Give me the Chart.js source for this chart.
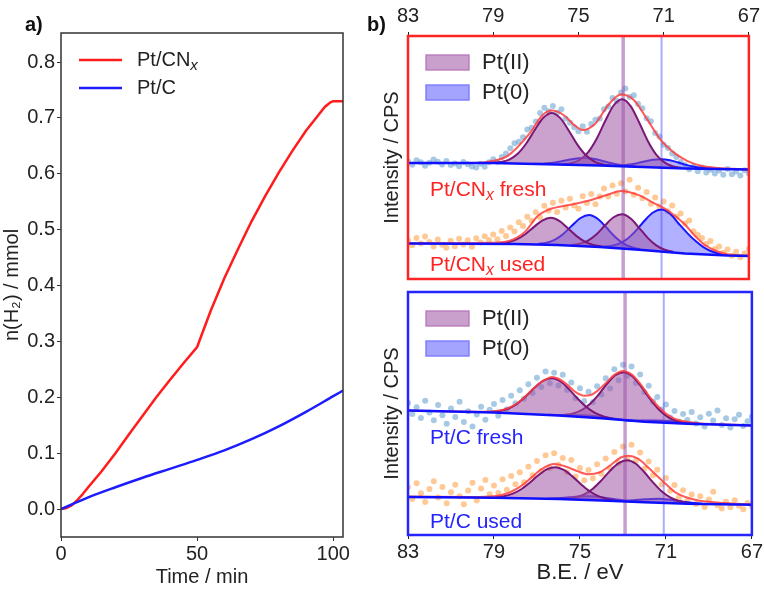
<!DOCTYPE html>
<html>
<head>
<meta charset="utf-8">
<title>H2 evolution and Pt 4f XPS</title>
<script src="https://cdn.jsdelivr.net/npm/chart.js@4.4.1/dist/chart.umd.min.js"></script>
<style>
  body { margin: 0; background: #fff; }
  #wrap { position: relative; width: 764px; height: 596px; font-family: "Liberation Sans", Arial, sans-serif; }
  canvas { position: absolute; }
  .tag { position: absolute; font-size: 20px; font-weight: bold; line-height: 20px; color: #111; }
</style>
</head>
<body>
<div id="wrap">
  <canvas id="kinetics" style="left:0;top:0;width:380px;height:596px" width="380" height="596"></canvas>
  <canvas id="xpsCNx" style="left:380px;top:0;width:384px;height:285px" width="384" height="285"></canvas>
  <canvas id="xpsC" style="left:380px;top:285px;width:384px;height:311px" width="384" height="311"></canvas>
  <div class="tag" style="left:25px;top:14px">a)</div>
  <div class="tag" style="left:367px;top:14px">b)</div>
</div>
<script>
// ---- a) H2 evolution ----
var cnxTime = [0, 2, 4, 6, 8, 10, 15, 20, 25, 30, 35, 40, 45, 50, 55, 60, 65, 70, 75, 80, 85, 90, 95, 97, 99, 100, 103.6];
var cnxH2 = [0, 0.002, 0.007, 0.016, 0.027, 0.039, 0.068, 0.1, 0.134, 0.167, 0.2, 0.231, 0.261, 0.29, 0.355, 0.413, 0.465, 0.515, 0.56, 0.602, 0.641, 0.677, 0.708, 0.72, 0.728, 0.73, 0.73];
var cTime = [0, 10, 20, 30, 40, 50, 60, 70, 80, 90, 100, 103.6];
var cH2 = [0, 0.021, 0.039, 0.056, 0.072, 0.088, 0.105, 0.125, 0.148, 0.174, 0.202, 0.212];
var timeTicks = [0, 50, 100];
var amountTicks = [0, 0.1, 0.2, 0.3, 0.4, 0.5, 0.6, 0.7, 0.8];

// ---- b) XPS Pt 4f ----
var energyTicks = [83, 79, 75, 71, 67];
var refEnergies = [72.9, 71.1]; // Pt(II), Pt(0)
var scanEnergies = [83.0,82.8,82.6,82.4,82.2,82.0,81.8,81.6,81.4,81.2,81.0,80.8,80.6,80.4,80.2,80.0,79.8,79.6,79.4,79.2,
  79.0,78.8,78.6,78.4,78.2,78.0,77.8,77.6,77.4,77.2,77.0,76.8,76.6,76.4,76.2,76.0,75.8,75.6,75.4,75.2,
  75.0,74.8,74.6,74.4,74.2,74.0,73.8,73.6,73.4,73.2,73.0,72.8,72.6,72.4,72.2,72.0,71.8,71.6,71.4,71.2,
  71.0,70.8,70.6,70.4,70.2,70.0,69.8,69.6,69.4,69.2,69.0,68.8,68.6,68.4,68.2,68.0,67.8,67.6,67.4,67.2,67.0];

// Pt/CNx fresh
var cnxFreshCounts = [48.5,47.0,48.9,48.0,46.6,47.8,49.2,48.3,47.1,48.6, 46.9,47.5,46.4,48.1,47.2,46.3,45.9,47.4,46.2,48.0,
  49.3,48.1,50.2,51.6,53.8,55.9,56.5,58.3,61.5,62.2, 64.8,68.3,70.5,69.0,71.2,68.4,69.9,66.1,64.3,62.5,
  60.8,62.9,60.6,63.8,65.5,66.1,69.9,71.0,74.5,73.2, 76.8,78.4,74.9,75.6,72.0,70.3,66.2,64.9,60.1,58.6,
  55.2,53.9,51.6,50.2,48.1,46.9,45.2,46.3,44.3,45.9, 43.8,45.0,43.4,44.6,42.9,45.3,43.1,44.2,42.6,44.8, 43.5];
var cnxFreshBase = [[83,47.7],[79,47.7],[76,47.1],[74,46.7],[72,46.1],[70,45.5],[67,45.1]];
var cnxFreshFit = [[83,47.7],[80,47.7],[79.2,48.3],[78.3,50.8],[77.3,59.8],[76.7,67.3],[76.25,69.3],[75.7,67.5],[75.15,63.0],[74.8,61.3],[74.2,64.0],[73.6,71.6],[73.0,75.9],[72.4,73.7],[71.75,65.4],[71.1,56.8],[70.5,51.9],[69.9,48.6],[69.3,46.7],[68.5,45.7],[67,45.1]];
var cnxFreshPt2a = [[79.05,47.83],[78.65,48.15],[78.25,49.15],[77.85,51.54],[77.45,55.76],[77.05,61.34],[76.65,66.35],[76.25,68.35],[75.85,66.19],[75.45,61.02],[75.05,55.28],[74.65,50.9],[74.25,48.35],[73.85,47.18],[73.45,46.67]];
var cnxFreshPt2b = [[75.75,47.22],[75.35,47.64],[74.95,48.98],[74.55,52.11],[74.15,57.63],[73.75,64.9],[73.35,71.4],[72.95,73.99],[72.55,71.17],[72.15,64.42],[71.75,56.93],[71.35,51.21],[70.95,47.88],[70.55,46.31],[70.15,45.72]];
var cnxFreshPt0a = [[77.1,47.39],[76.7,47.47],[76.3,47.74],[75.9,48.27],[75.5,48.99],[75.1,49.63],[74.7,49.84],[74.3,49.47],[73.9,48.66],[73.5,47.74],[73.1,47.01],[72.7,46.54],[72.3,46.26]];
var cnxFreshPt0b = [[73.5,46.64],[73.1,46.69],[72.7,46.98],[72.3,47.57],[71.9,48.39],[71.5,49.11],[71.1,49.33],[70.7,48.87],[70.3,47.91],[69.9,46.87],[69.5,46.1],[69.1,45.64],[68.7,45.42]];

// Pt/CNx used
var cnxUsedCounts = [15.8,13.9,16.9,14.6,17.5,15.2,13.4,16.3,14.1,12.9, 15.7,13.5,16.6,14.2,15.9,13.3,16.8,15.0,17.6,16.1,
  18.3,16.4,19.8,17.7,21.2,19.5,23.4,21.8,25.6,24.0, 27.5,25.3,30.1,28.2,31.4,27.6,32.2,29.4,33.0,30.2,
  28.9,34.1,31.3,35.0,30.8,33.9,37.2,34.0,38.5,35.1, 39.4,36.0,40.8,34.7,37.6,33.2,35.8,31.0,33.5,29.8,
  31.9,27.9,30.2,25.6,27.0,22.8,24.1,19.6,18.2,16.9, 14.4,15.6,12.3,13.4,10.8,12.1,9.6,11.2,8.9,10.5, 12.4];
var cnxUsedBase = [[83,14.6],[78,14.4],[76,14.0],[74,13.2],[72,11.9],[70,10.5],[68,9.7],[67,9.5]];
var cnxUsedFit = [[83,14.7],[80,14.8],[78.5,15.2],[77.9,17.0],[77.5,19.5],[76.9,26.0],[76.25,29.0],[75.3,30.7],[74.4,32.5],[73.6,34.8],[73.0,36.2],[72.2,34.6],[71.45,31.2],[70.8,28.2],[70.05,22.8],[69.5,17.5],[69.1,14.2],[68.5,11.4],[68.0,10.2],[67.5,9.8],[67,9.6]];
var cnxUsedPt2a = [[78.7,14.64],[78.3,15.11],[77.9,16.27],[77.5,18.4],[77.1,21.35],[76.7,24.07],[76.3,25.16],[75.9,23.89],[75.5,20.93],[75.1,17.74],[74.7,15.37],[74.3,14.02],[73.9,13.35]];
var cnxUsedPt2b = [[75.35,14.01],[74.95,14.47],[74.55,15.82],[74.15,18.45],[73.75,22.09],[73.35,25.4],[72.95,26.62],[72.55,24.88],[72.15,21.05],[71.75,16.93],[71.35,13.85],[70.95,12.06],[70.55,11.16]];
var cnxUsedPt0a = [[76.9,14.43],[76.5,14.91],[76.1,16.21],[75.7,18.64],[75.3,22.0],[74.9,25.11],[74.5,26.3],[74.1,24.78],[73.7,21.29],[73.3,17.51],[72.9,14.68],[72.5,13.04],[72.1,12.22]];
var cnxUsedPt0b = [[73.9,13.36],[73.5,13.59],[73.1,14.51],[72.7,16.55],[72.3,19.89],[71.9,23.96],[71.5,27.38],[71.1,28.57],[70.7,26.82],[70.3,22.84],[69.9,19.0],[69.5,15.6],[69.1,12.9],[68.7,11.2],[68.3,10.2]];

// Pt/C fresh
var cFreshCounts = [54.3,49.8,52.6,48.1,55.2,50.4,47.2,53.5,49.3,45.8, 52.1,48.6,54.8,46.5,50.9,44.7,49.6,52.8,47.4,51.5,
  53.9,49.1,55.6,51.8,57.3,54.2,59.6,56.1,62.0,58.4, 64.7,60.9,67.3,62.4,66.8,61.5,65.9,59.7,62.8,56.3,
  60.4,55.1,58.9,54.6,61.2,57.8,64.5,60.3,68.2,63.7, 70.1,65.4,69.3,62.6,66.0,58.7,61.4,54.9,56.8,51.6,
  53.7,48.4,51.0,46.7,49.8,47.3,50.6,45.9,48.5,44.6, 49.9,47.1,51.2,45.3,48.0,44.2,47.6,49.5,44.9,46.8, 48.7];
var cFreshBase = [[83,51.2],[79,50.4],[76,49.2],[74,48.0],[72,46.6],[70,45.8],[67,45.1]];
var cFreshFit = [[83,51.2],[79.5,50.7],[79,50.9],[78.5,51.7],[78,53.7],[77.5,57.4],[77,61.6],[76.6,64.0],[76.3,65.0],[76,64.3],[75.6,61.9],[75.2,58.8],[74.8,57.3],[74.5,57.6],[74.2,59.2],[73.8,62.5],[73.4,65.9],[73.0,67.5],[72.6,66.1],[72.2,62.3],[71.8,57.4],[71.4,53.3],[71.0,50.0],[70.6,47.9],[70.2,46.9],[69.5,46.0],[68.5,45.6],[67,45.1]];
var cFreshPt2a = [[79.1,50.72],[78.7,51.13],[78.3,52.17],[77.9,54.19],[77.5,57.2],[77.1,60.68],[76.7,63.51],[76.3,64.52],[75.9,63.17],[75.5,59.94],[75.1,56.06],[74.7,52.65],[74.3,50.23],[73.9,48.78],[73.5,47.95]];
var cFreshPt2b = [[75.75,49.45],[75.35,49.92],[74.95,51.24],[74.55,53.83],[74.15,57.59],[73.75,62.14],[73.35,65.77],[72.95,67.01],[72.55,65.21],[72.15,61.02],[71.75,56.14],[71.35,51.84],[70.95,48.85],[70.55,47.13],[70.15,46.26]];
var cFreshPt0a = [[76.5,49.46],[76.1,49.39],[75.7,49.34],[75.3,49.31],[74.9,49.26],[74.5,49.1],[74.1,48.75],[73.7,48.28],[73.3,47.79],[72.9,47.34],[72.5,46.97]];
var cFreshPt0b = [[73.1,47.43],[72.7,47.24],[72.3,47.13],[71.9,47.09],[71.5,47.12],[71.1,47.04],[70.7,46.8],[70.3,46.45],[69.9,46.1],[69.5,45.83],[69.1,45.65]];

// Pt/C used
var cUsedCounts = [19.6,14.8,21.3,17.2,13.6,18.9,22.1,15.4,19.8,13.1, 17.6,20.7,15.9,12.7,18.3,21.5,14.2,19.1,22.6,16.8,
  20.4,17.3,22.9,18.6,24.3,20.9,25.8,21.7,28.1,24.6, 30.5,26.2,32.8,27.5,33.6,28.9,31.7,25.8,30.9,24.1,
  27.6,22.5,26.8,23.4,29.1,25.2,31.5,27.4,34.2,29.6, 36.4,31.2,37.1,30.5,33.9,27.3,30.2,24.6,26.9,20.8,
  23.5,18.2,20.6,15.3,18.4,14.1,16.7,12.8,15.9,11.5, 14.6,17.8,12.2,10.9,13.7,11.4,14.3,12.0,10.6,13.2, 11.8];
var cUsedBase = [[83,15.6],[79,15.3],[76,14.8],[74,14.2],[72,13.5],[70,12.9],[67,12.4]];
var cUsedFit = [[83,15.8],[80,15.6],[79,15.9],[78.3,17.4],[77.8,19.8],[77.3,23.3],[76.8,27.0],[76.2,29.2],[75.6,28.0],[75.1,26.2],[74.6,25.0],[74.1,25.7],[73.6,28.6],[73.1,31.9],[72.75,32.6],[72.3,31.4],[71.8,27.6],[71.2,22.6],[70.5,17.2],[69.6,14.4],[68.5,13.3],[67,12.6]];
var cUsedPt2a = [[78.95,15.55],[78.55,15.95],[78.15,16.93],[77.75,18.73],[77.35,21.41],[76.95,24.47],[76.55,26.98],[76.15,27.93],[75.75,26.82],[75.35,24.12],[74.95,20.87],[74.55,18.01],[74.15,16.02],[73.75,14.84],[73.35,14.23]];
var cUsedPt2b = [[75.6,15.02],[75.2,15.51],[74.8,16.74],[74.4,19.05],[74.0,22.48],[73.6,26.4],[73.2,29.61],[72.8,30.78],[72.4,29.33],[72.0,25.84],[71.6,21.66],[71.2,17.99],[70.8,15.44],[70.4,13.97],[70.0,13.24]];
var cUsedPt0a = [[76.5,15.0],[76.1,15.13],[75.7,15.34],[75.3,15.65],[74.9,15.91],[74.5,15.95],[74.1,15.67],[73.7,15.16],[73.3,14.59],[72.9,14.13],[72.5,13.8]];
var cUsedPt0b = [[73.3,14.07],[72.9,14.13],[72.5,14.31],[72.1,14.6],[71.7,14.85],[71.3,14.89],[70.9,14.61],[70.5,14.11],[70.1,13.56],[69.7,13.16],[69.3,12.9]];

var FONT = '"Liberation Sans", Arial, sans-serif';
Chart.defaults.font.family = FONT;
Chart.defaults.color = '#222';

var pt2Fill = 'rgba(160, 85, 165, 0.55)', pt2Line = '#7a1877';
var pt0Fill = 'rgba(70, 70, 255, 0.42)', pt0Line = '#1616ff';

// text with an italic subscript part, e.g. CN_x
function drawRich(ctx, parts, x, y, size, color) {
  ctx.fillStyle = color;
  ctx.textAlign = 'left';
  ctx.textBaseline = 'middle';
  parts.forEach(function (p) {
    var fs = p.sub ? size * 0.75 : size;
    ctx.font = (p.sub ? 'italic ' : '') + fs + 'px ' + FONT;
    ctx.fillText(p.t, x, p.sub ? y + size * 0.28 : y);
    x += ctx.measureText(p.t).width;
  });
}

var framePlugin = {
  id: 'frame',
  afterDatasetsDraw: function (chart, args, opts) {
    var a = chart.chartArea, ctx = chart.ctx;
    ctx.save();
    ctx.strokeStyle = opts.color;
    ctx.lineWidth = opts.width;
    ctx.strokeRect(a.left, a.top, a.right - a.left, a.bottom - a.top);
    ctx.restore();
  }
};

var notesPlugin = {
  id: 'notes',
  afterDraw: function (chart, args, opts) {
    var ctx = chart.ctx, a = chart.chartArea;
    ctx.save();
    (opts.lines || []).forEach(function (l) {
      ctx.strokeStyle = l.color; ctx.lineWidth = 2.5;
      ctx.beginPath(); ctx.moveTo(a.left + l.x0, l.y); ctx.lineTo(a.left + l.x1, l.y); ctx.stroke();
    });
    (opts.swatches || []).forEach(function (s) {
      ctx.fillStyle = s.fill; ctx.strokeStyle = s.stroke; ctx.lineWidth = 1.5;
      ctx.fillRect(a.left + 18, a.top + s.dy, 43, 15);
      ctx.strokeRect(a.left + 18, a.top + s.dy, 43, 15);
    });
    (opts.texts || []).forEach(function (t) {
      drawRich(ctx, t.parts, a.left + t.dx, a.top + t.dy, t.size, t.color);
    });
    ctx.restore();
  }
};

function xy(pts) { return pts.map(function (p) { return { x: p[0], y: p[1] }; }); }

// ---------- a) ----------
new Chart(document.getElementById('kinetics'), {
  type: 'line',
  data: {
    datasets: [
      { label: 'Pt/CNx', data: cnxTime.map(function (t, i) { return { x: t, y: cnxH2[i] }; }),
        borderColor: '#ff1c1c', borderWidth: 2.5, pointRadius: 0, tension: 0, order: 1 },
      { label: 'Pt/C', data: cTime.map(function (t, i) { return { x: t, y: cH2[i] }; }),
        borderColor: '#1c1cff', borderWidth: 2.5, pointRadius: 0, cubicInterpolationMode: 'monotone', order: 0 }
    ]
  },
  options: {
    responsive: false, animation: false,
    layout: { padding: { left: 0, right: 37, top: 33, bottom: 0 } },
    plugins: {
      legend: { display: false }, tooltip: { enabled: false },
      frame: { color: '#333', width: 1.5 },
      notes: {
        lines: [{ x0: 18, x1: 61, y: 60, color: '#ff1c1c' }, { x0: 18, x1: 61, y: 88, color: '#1c1cff' }],
        texts: [
          { parts: [{ t: 'Pt/CN' }, { t: 'x', sub: true }], dx: 76, dy: 27, size: 20, color: '#222' },
          { parts: [{ t: 'Pt/C' }], dx: 76, dy: 55, size: 20, color: '#222' }
        ]
      }
    },
    scales: {
      x: {
        type: 'linear', min: 0, max: 103.6,
        afterBuildTicks: function (s) { s.ticks = timeTicks.map(function (v) { return { value: v }; }); },
        afterFit: function (s) { s.height = 59; },
        ticks: { font: { size: 20 }, color: '#222', padding: 1, maxRotation: 0 },
        grid: { display: true, drawOnChartArea: false, tickLength: 4, tickColor: '#333' },
        border: { display: false },
        title: { display: true, text: 'Time / min', font: { size: 20 }, color: '#222', padding: { top: 0, bottom: 7 } }
      },
      y: {
        type: 'linear', min: -0.05, max: 0.852,
        afterBuildTicks: function (s) { s.ticks = amountTicks.map(function (v) { return { value: v }; }); },
        afterFit: function (s) { s.width = 61; },
        ticks: { font: { size: 20 }, color: '#222', padding: 2, callback: function (v) { return v.toFixed(1); } },
        grid: { display: true, drawOnChartArea: false, tickLength: 4, tickColor: '#333' },
        border: { display: false },
        title: { display: true, text: 'n(H\u2082) / mmol', font: { size: 20 }, color: '#222', padding: { top: 0, bottom: 0 } }
      }
    }
  },
  plugins: [framePlugin, notesPlugin]
});

// ---------- b) ----------
function spectrumSets(sets, spec, dotColor) {
  var baseIndex = sets.length;
  sets.push({ data: xy(spec.base), borderColor: '#1010ff', borderWidth: 2.5, pointRadius: 0, tension: 0, order: 1 });
  sets.push({ data: xy(spec.fit), borderColor: 'rgba(255, 60, 60, 0.85)', borderWidth: 2, pointRadius: 0,
    cubicInterpolationMode: 'monotone', order: 2 });
  spec.pt2.forEach(function (c) {
    sets.push({ data: xy(c), borderColor: pt2Line, backgroundColor: pt2Fill, borderWidth: 2, pointRadius: 0,
      cubicInterpolationMode: 'monotone', fill: baseIndex, order: 3 });
  });
  spec.pt0.forEach(function (c) {
    sets.push({ data: xy(c), borderColor: pt0Line, backgroundColor: pt0Fill, borderWidth: 2, pointRadius: 0,
      cubicInterpolationMode: 'monotone', fill: baseIndex, order: 3 });
  });
  sets.push({ type: 'scatter', data: scanEnergies.map(function (e, i) { return { x: e, y: spec.counts[i] }; }),
    pointRadius: 3, backgroundColor: dotColor, borderWidth: 0, order: 6 });
}

function refSets(sets) {
  var colors = ['rgba(150, 80, 170, 0.55)', 'rgba(90, 90, 255, 0.5)'];
  refEnergies.forEach(function (e, i) {
    sets.push({ data: [{ x: e, y: 0 }, { x: e, y: 100 }], borderColor: colors[i], borderWidth: i ? 2 : 3.5,
      pointRadius: 0, order: 5 });
  });
}

function xpsChart(id, opts) {
  var sets = [];
  refSets(sets);
  spectrumSets(sets, opts.fresh, 'rgba(110, 165, 210, 0.6)');
  spectrumSets(sets, opts.used, 'rgba(255, 165, 80, 0.6)');
  var leg = [
    { parts: [{ t: 'Pt(II)' }], dx: 74, dy: 26.5, size: 22, color: '#222' },
    { parts: [{ t: 'Pt(0)' }], dx: 74, dy: 56.5, size: 22, color: '#222' }
  ];
  return new Chart(document.getElementById(id), {
    type: 'line',
    data: { datasets: sets },
    options: {
      responsive: false, animation: false,
      layout: { padding: opts.padding },
      plugins: {
        legend: { display: false }, tooltip: { enabled: false },
        frame: { color: opts.frame, width: 2.5 },
        notes: {
          swatches: [
            { dy: 19, fill: 'rgba(165, 95, 170, 0.6)', stroke: 'rgba(185, 120, 190, 0.9)' },
            { dy: 49, fill: 'rgba(90, 90, 255, 0.55)', stroke: 'rgba(120, 120, 255, 0.9)' }
          ],
          texts: leg.concat(opts.labels)
        }
      },
      scales: {
        x: {
          type: 'linear', position: opts.axisPos, reverse: true, min: 67, max: 83,
          afterBuildTicks: function (s) { s.ticks = energyTicks.map(function (v) { return { value: v }; }); },
          afterFit: function (s) { s.height = opts.axisHeight; },
          ticks: { font: { size: 20 }, color: '#222', padding: opts.tickPad, maxRotation: 0, autoSkip: false },
          grid: { display: true, drawOnChartArea: false, tickLength: 4, tickColor: '#222' },
          border: { display: false },
          title: opts.axisTitle
        },
        y: {
          type: 'linear', min: 0, max: 100,
          afterFit: function (s) { s.width = 28; },
          ticks: { display: false },
          grid: { display: false },
          border: { display: false },
          title: { display: true, text: 'Intensity / CPS', font: { size: 20 }, color: '#222', padding: { top: 0, bottom: 0 } }
        }
      }
    },
    plugins: [framePlugin, notesPlugin]
  });
}

xpsChart('xpsCNx', {
  frame: '#ff2424', axisPos: 'top', axisHeight: 36, tickPad: 4,
  padding: { left: 0, right: 12, top: 0, bottom: 6 },
  axisTitle: { display: false },
  fresh: { base: cnxFreshBase, fit: cnxFreshFit, pt2: [cnxFreshPt2a, cnxFreshPt2b], pt0: [cnxFreshPt0a, cnxFreshPt0b], counts: cnxFreshCounts },
  used: { base: cnxUsedBase, fit: cnxUsedFit, pt2: [cnxUsedPt2a, cnxUsedPt2b], pt0: [cnxUsedPt0a, cnxUsedPt0b], counts: cnxUsedCounts },
  labels: [
    { parts: [{ t: 'Pt/CN' }, { t: 'x', sub: true }, { t: ' fresh' }], dx: 22, dy: 154, size: 21, color: '#ff2424' },
    { parts: [{ t: 'Pt/CN' }, { t: 'x', sub: true }, { t: ' used' }], dx: 22, dy: 229, size: 21, color: '#ff2424' }
  ]
});

xpsChart('xpsC', {
  frame: '#2424ff', axisPos: 'bottom', axisHeight: 61, tickPad: 1,
  padding: { left: 0, right: 12, top: 7, bottom: 0 },
  axisTitle: { display: true, text: 'B.E. / eV', font: { size: 22 }, color: '#222', padding: { top: 0, bottom: 10 } },
  fresh: { base: cFreshBase, fit: cFreshFit, pt2: [cFreshPt2a, cFreshPt2b], pt0: [cFreshPt0a, cFreshPt0b], counts: cFreshCounts },
  used: { base: cUsedBase, fit: cUsedFit, pt2: [cUsedPt2a, cUsedPt2b], pt0: [cUsedPt0a, cUsedPt0b], counts: cUsedCounts },
  labels: [
    { parts: [{ t: 'Pt/C fresh' }], dx: 22, dy: 146, size: 21, color: '#2424ff' },
    { parts: [{ t: 'Pt/C used' }], dx: 22, dy: 230, size: 21, color: '#2424ff' }
  ]
});
</script>
</body>
</html>
